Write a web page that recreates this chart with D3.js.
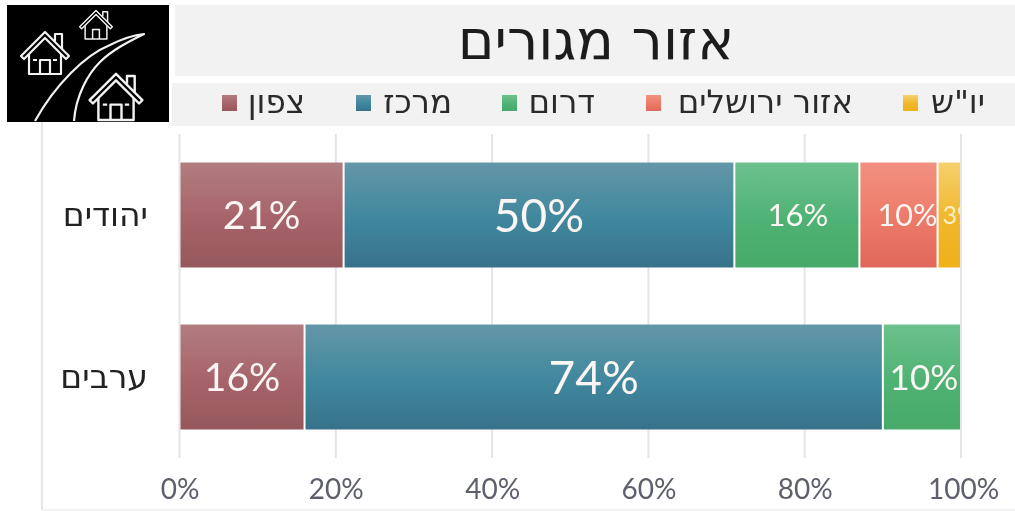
<!DOCTYPE html>
<html>
<head>
<meta charset="utf-8">
<script src="https://cdn.jsdelivr.net/npm/d3@7"></script>
<style>
  html, body { margin: 0; padding: 0; background: #fff; overflow: hidden; }
  text { font-family: "DejaVu Sans", sans-serif; }
  .num { font-family: "Lato", "Open Sans", sans-serif; }
</style>
</head>
<body>
<div id="chart"></div>
<script>
const title = 'אזור מגורים';
const groups = ['יהודים', 'ערבים'];
const regions = ['צפון', 'מרכז', 'דרום', 'אזור ירושלים', 'יו"ש'];
const jews = [21, 50, 16, 10, 3];
const arabs = [16, 74, 10, 0, 0];
const xTicks = [0, 20, 40, 60, 80, 100];
const colorsTop = ['#b27c80', '#6397a7', '#6dc18c', '#f29180', '#f5d06d'];
const colorsMid = ['#a66369', '#3f879e', '#4fb274', '#ec7a69', '#f0b72c'];
const colorsBottom = ['#95585c', '#38728a', '#47aa6a', '#e0685a', '#efb11c'];

const width = 1015, height = 511;
const svg = d3.select('#chart').append('svg')
  .attr('width', width).attr('height', height)
  .attr('viewBox', [0, 0, width, height])
  .style('display', 'block');

const defs = svg.append('defs');
regions.forEach((r, i) => {
  const g = defs.append('linearGradient').attr('id', 'grad' + i)
    .attr('x1', 0).attr('x2', 0).attr('y1', 0).attr('y2', 1);
  g.append('stop').attr('offset', '0%').attr('stop-color', colorsTop[i]);
  g.append('stop').attr('offset', '55%').attr('stop-color', colorsMid[i]);
  g.append('stop').attr('offset', '100%').attr('stop-color', colorsBottom[i]);
});
defs.append('filter').attr('id', 'soft').append('feGaussianBlur').attr('stdDeviation', 0.45);

const x = d3.scaleLinear().domain([0, 100]).range([179.5, 961]);
const y = d3.scaleBand().domain(groups).range([134, 458]).paddingInner(0.352).paddingOuter(0.176);

const root = svg.append('g').attr('filter', 'url(#soft)');

// frame lines
root.append('line').attr('x1', 42).attr('x2', 42).attr('y1', 120).attr('y2', 510)
  .attr('stroke', '#e4e4ea').attr('stroke-width', 2);
root.append('line').attr('x1', 42).attr('x2', width).attr('y1', 510).attr('y2', 510)
  .attr('stroke', '#eeeeee').attr('stroke-width', 1.5);

// title and legend bands
root.append('rect').attr('x', 175).attr('y', 5).attr('width', 840).attr('height', 71).attr('fill', '#f2f2f2');
root.append('rect').attr('x', 172).attr('y', 83).attr('width', 843).attr('height', 43).attr('fill', '#f2f2f2');
root.append('text').attr('x', 596).attr('y', 59).attr('text-anchor', 'middle')
  .attr('direction', 'rtl').attr('font-size', 55.5).attr('fill', '#1c1c1c').text(title);

// legend
const legendSwatchX = [222, 356, 502, 646, 903];
const legendTextEnd = [305, 452, 595, 853, 985];
const legend = root.selectAll('.leg').data(regions).join('g').attr('class', 'leg');
legend.append('rect').attr('x', (d, i) => legendSwatchX[i]).attr('y', 95)
  .attr('width', 15).attr('height', 16).attr('fill', (d, i) => `url(#grad${i})`);
legend.append('text').attr('x', (d, i) => legendTextEnd[i]).attr('y', 113)
  .attr('text-anchor', 'start').attr('direction', 'rtl')
  .attr('font-size', 32.5).attr('fill', '#2a2a2a').text(d => d);

// grid and axis
const gridTop = 134, gridBottom = 458;
root.selectAll('.gridline').data(xTicks).join('line').attr('class', 'gridline')
  .attr('x1', d => x(d)).attr('x2', d => x(d)).attr('y1', gridTop).attr('y2', gridBottom)
  .attr('stroke', '#e4e4ea').attr('stroke-width', 2);

const axis = d3.axisBottom(x).tickValues(xTicks).tickFormat(d => d + '%').tickSize(0);
const axisG = root.append('g').attr('transform', 'translate(0,476)').call(axis);
axisG.select('.domain').remove();
axisG.selectAll('text').attr('class', 'num').attr('font-size', 28).attr('fill', '#5d606c');
axisG.selectAll('.tick').filter(d => d === 100).select('text').attr('dx', 2);

// category labels
root.selectAll('.cat').data(groups).join('text').attr('class', 'cat')
  .attr('x', 148).attr('y', d => y(d) + y.bandwidth() / 2 + 11)
  .attr('text-anchor', 'start').attr('direction', 'rtl')
  .attr('font-size', 33).attr('fill', '#222').text(d => d);

// stacked bars
const labelSizes = [[39.5, 46, 31, 30.5, 25], [39, 46, 35]];
const labelShift = [[0, 0, 1, 9, 0], [0, 0, 2]];
[jews, arabs].forEach((vals, gi) => {
  const top = y(groups[gi]);
  let acc = 0;
  vals.forEach((v, i) => {
    if (!v) return;
    const x0 = x(acc), x1 = x(acc + v);
    acc += v;
    const cid = `clip${gi}_${i}`;
    defs.append('clipPath').attr('id', cid).append('rect')
      .attr('x', x0).attr('y', top).attr('width', x1 - x0).attr('height', y.bandwidth());
    root.append('rect').attr('x', x0 + 1).attr('y', top).attr('width', x1 - x0 - 2)
      .attr('height', y.bandwidth()).attr('fill', `url(#grad${i})`);
    const size = labelSizes[gi][i];
    root.append('text').attr('class', 'num').attr('clip-path', `url(#${cid})`)
      .attr('x', v === 3 ? x0 + 5 : (x0 + x1) / 2 + labelShift[gi][i])
      .attr('y', top + y.bandwidth() / 2 + size * 0.36)
      .attr('text-anchor', v === 3 ? 'start' : 'middle')
      .attr('font-size', size).attr('fill', v === 3 ? '#fbeec4' : '#fbf6f4')
      .text(v + '%');
  });
});

// houses icon
const icon = root.append('g');
icon.append('rect').attr('x', 7).attr('y', 5).attr('width', 162).attr('height', 117).attr('fill', '#000');
const line = icon.append('g').attr('fill', 'none').attr('stroke', '#f2f2f2').attr('stroke-width', 2.2).attr('stroke-linejoin', 'round');
line.append('path').attr('d', 'M35 121 C55 85 85 55 110 45 C122 39 134 35 144 34 C128 42 112 50 100 62 C88 74 76 95 74 121');
function house(cx, base, s) {
  const g = line.append('g').attr('transform', `translate(${cx},${base}) scale(${s})`);
  g.append('path').attr('d', 'M-24 -18 L0 -42 L24 -18 L21 -15 L0 -36 L-21 -15 Z');
  g.append('path').attr('d', 'M-16 -20 V0 H16 V-20');
  g.append('path').attr('d', 'M-5 0 V-14 H5 V0');
  g.append('path').attr('d', 'M10 -33 V-40 H17 V-25');
  if (s > 0.8) {
    g.append('path').attr('d', 'M-12 -14 H-8 M8 -14 H12');
  }
}
house(45, 74, 1);
house(116, 120, 1.1);
house(96, 39, 0.68);
</script>
</body>
</html>
